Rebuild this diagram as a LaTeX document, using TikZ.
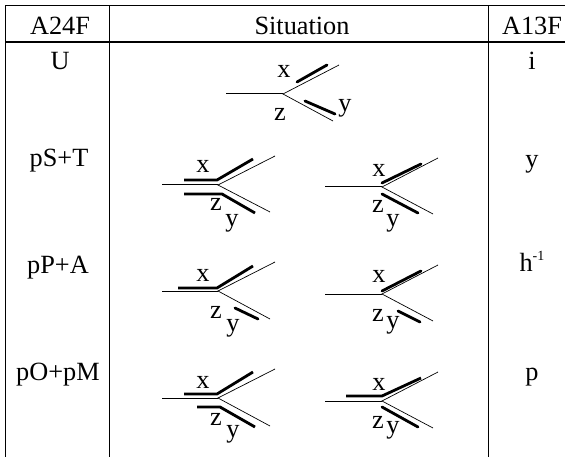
\documentclass[tikz,border=0pt]{standalone}
\usepackage{fontspec}
\setmainfont{Liberation Serif}
\tikzset{
  x=1pt,y=-1pt,
  grid/.style={line width=1pt,black},
  head/.style={line width=2.8pt,black},
  fine/.style={line width=0.7pt,black},
  stem/.style={line width=1pt,black},
  bold/.style={line width=2.8pt,black,line cap=round,line join=round},
  txt/.style={inner sep=0pt,anchor=base,font=\fontsize{26.3}{28}\selectfont},
}
\newcommand{\yfork}[8]{%
  \coordinate (s#1) at (#2,#3);
  \coordinate (j#1) at (#4,#3);
  \coordinate (u#1) at (#5,#6);
  \coordinate (l#1) at (#7,#8);
  \draw[stem] (s#1) -- (j#1);
  \draw[fine] (u#1) -- (j#1) -- (l#1);
}
\begin{document}
\begin{tikzpicture}
\useasboundingbox (0,0) rectangle (565,457);
\fill[white] (0,0) rectangle (565,457);
\coordinate (gl) at (5.7,6); \coordinate (gr) at (565,6);
\coordinate (bl) at (5.7,457);
\coordinate (c1) at (109,6); \coordinate (c1b) at (109,457);
\coordinate (c2) at (488.3,6); \coordinate (c2b) at (488.3,457);
\coordinate (hl) at (5.7,42); \coordinate (hr) at (565,42);
\draw[grid] (bl) -- (gl) -- (gr);
\draw[grid] (c1) -- (c1b);
\draw[grid] (c2) -- (c2b);
\draw[head] (hl) -- (hr);
\node[txt] (h1) at (60,35) {A24F};
\node[txt] (h2) at (302,35) {Situation};
\node[txt] (h3) at (532,35) {A13F};
\node[txt] (a1) at (60,70) {U};
\node[txt] (a2) at (59,167) {pS+T};
\node[txt] (a3) at (58,273) {pP+A};
\node[txt] (a4) at (58,380) {pO+pM};
\node[txt] (b1) at (532,70) {i};
\node[txt] (b2) at (532,168) {y};
\node[txt] (b3) at (532,272) {h\raisebox{11pt}{\fontsize{14}{15}\selectfont -1}};
\node[txt] (b4) at (532,380) {p};
% row 1
\yfork{a}{226}{94}{283}{339}{65}{333}{121}
\draw[bold] (297,82) -- (327,65);
\draw[bold] (305,101) -- (335,114);
\node[txt] (xa) at (284,78) {x};
\node[txt] (ya) at (345,112) {y};
\node[txt] (za) at (280,121) {z};
% row 2
\yfork{b}{162}{185}{218}{275}{156}{270}{212}
\draw[bold,line cap=butt] (184,180) -- (217,180) -- (253,159);
\draw[bold,line cap=butt] (184,194) -- (222,194) -- (255,213);
\node[txt] (xb) at (203,173) {x};
\node[txt] (zb) at (216,211) {z};
\node[txt] (yb) at (232,227) {y};
\yfork{c}{325}{187}{382}{438}{158}{433}{214}
\draw[bold] (382,183) -- (421,164);
\draw[bold] (382,194) -- (418,213);
\node[txt] (xc) at (379,177) {x};
\node[txt] (zc) at (378,213) {z};
\node[txt] (yc) at (393,227) {y};
% row 3
\yfork{d}{162}{291}{218}{275}{262}{270}{319}
\draw[bold,line cap=butt] (178,288) -- (217,288) -- (253,266);
\draw[bold] (235,308) -- (258,319);
\node[txt] (xd) at (203,281) {x};
\node[txt] (zd) at (216,318) {z};
\node[txt] (yd) at (233,331) {y};
\yfork{e}{325}{294}{382}{438}{265}{433}{321}
\draw[bold] (382,291) -- (421,271);
\draw[bold] (398,311) -- (420,322);
\node[txt] (xe) at (379,283) {x};
\node[txt] (ze) at (378,321) {z};
\node[txt] (ye) at (393,328) {y};
% row 4
\yfork{f}{162}{398}{218}{275}{369}{270}{426}
\draw[bold,line cap=butt] (184,394) -- (217,394) -- (253,372);
\draw[bold,line cap=butt] (197,407) -- (220,407) -- (255,427);
\node[txt] (xf) at (203,388) {x};
\node[txt] (zf) at (216,425) {z};
\node[txt] (yf) at (233,437) {y};
\yfork{g}{325}{401}{382}{438}{372}{433}{428}
\draw[bold,line cap=butt] (346,396) -- (382,396) -- (421,378);
\draw[bold] (382,407) -- (418,427);
\node[txt] (xg) at (379,390) {x};
\node[txt] (zg) at (378,428) {z};
\node[txt] (yg) at (393,433) {y};
\end{tikzpicture}
\end{document}
